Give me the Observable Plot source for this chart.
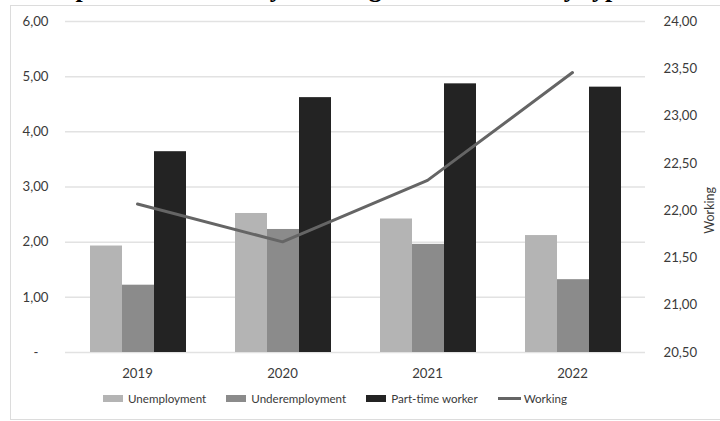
<!DOCTYPE html>
<html>
<head>
<meta charset="utf-8">
<script src="https://cdn.jsdelivr.net/npm/d3@7"></script>
<script src="https://cdn.jsdelivr.net/npm/@observablehq/plot@0.6"></script>
<style>
  body { margin: 0; background: #fff; }
  #chart { position: relative; width: 720px; height: 421px; overflow: hidden; font-family: Lato, sans-serif; color: #3a3a3a; }
  #frame { position: absolute; left: 10px; top: 5px; width: 730px; height: 415px; border: 1px solid #dcdcdc; box-sizing: border-box; }
  #title { position: absolute; left: 22px; top: -24.5px; font: bold 26px/26px "Liberation Serif", serif; white-space: nowrap; color: #000; }
  .layer { position: absolute; left: 0; top: 0; }
  #legend { position: absolute; left: 103px; top: 392px; display: flex; align-items: center; font-size: 11.6px; color: #3a3a3a; }
  #legend .item { display: flex; align-items: center; margin-right: 20px; }
  #legend .sw { width: 20px; height: 7px; margin-right: 5px; }
  #legend .ln { width: 23px; height: 3px; margin-right: 3px; }
</style>
</head>
<body>
<div id="chart">
  <div id="frame"></div>
  <div id="title">Comparison of rates by working status and sex by type</div>
  <div id="bars" class="layer"></div>
  <div id="overlay" class="layer"></div>
  <div id="legend"></div>
</div>
<script>
// Years and bar series (left axis)
const years = ["2019", "2020", "2021", "2022"];
const series = ["Unemployment", "Underemployment", "Part-time worker"];
const unemployment = [1.93, 2.52, 2.42, 2.12];
const underemployment = [1.22, 2.23, 1.96, 1.32];
const partTime = [3.64, 4.62, 4.87, 4.81];
// Working line (right axis)
const working = [22.07, 21.67, 22.32, 23.46];

const leftTicks = [0, 1, 2, 3, 4, 5, 6];
const rightTicks = [20.5, 21, 21.5, 22, 22.5, 23, 23.5, 24];
const barColors = ["#b4b4b4", "#8b8b8b", "#232323"];
const lineColor = "#656565";

const comma = d => d.toFixed(2).replace(".", ",");
// zero is shown as an accounting dash, set in from the right edge
const leftFormat = d => (d === 0 ? "-\u00a0\u00a0\u00a0" : comma(d));

const values = [unemployment, underemployment, partTime];
const rows = years.flatMap((year, i) =>
  series.map((s, j) => ({year, series: s, value: values[j][i]}))
);
const lineRows = years.map((year, i) => ({year, value: working[i]}));

const W = 720, H = 385;
const margins = {marginTop: 21, marginBottom: 33, marginLeft: 63, marginRight: 74};
const font = {fontFamily: "Lato, sans-serif", fontSize: "13.2px", color: "#3a3a3a", background: "transparent"};

// Bottom layer: grid, clustered bars, left axis
const bars = Plot.plot({
  width: W, height: H, ...margins,
  style: font,
  facet: {data: rows, x: "year", marginTop: 0, marginBottom: 0, marginLeft: 0, marginRight: 0},
  fx: {domain: years, padding: 0, axis: null, label: null},
  x: {domain: series, paddingInner: 0, paddingOuter: 0.74, axis: null},
  y: {domain: [0, 6], ticks: leftTicks, tickSize: 0, tickPadding: 17, tickFormat: leftFormat, label: null},
  color: {domain: series, range: barColors},
  marks: [
    Plot.ruleY(leftTicks, {stroke: "#e2e2e2", strokeWidth: 1.5}),
    Plot.barY(rows, {x: "series", y: "value", fill: "series"})
  ]
});
document.getElementById("bars").appendChild(bars);

// Top layer: working line, right axis, year labels
const overlay = Plot.plot({
  width: W, height: H, ...margins,
  style: font,
  x: {type: "point", domain: years, padding: 0.5, tickSize: 0, tickPadding: 16, label: null},
  y: {domain: [20.5, 24], axis: "right", ticks: rightTicks, tickSize: 0, tickPadding: 17, tickFormat: comma, label: null},
  marks: [
    Plot.line(lineRows, {x: "year", y: "value", stroke: lineColor, strokeWidth: 3}),
    Plot.text(["Working"], {frameAnchor: "right", text: d => d, rotate: -90, dx: 63, fill: "#3a3a3a", fontSize: 12.5})
  ]
});
document.getElementById("overlay").appendChild(overlay);

// Legend
const legend = document.getElementById("legend");
series.forEach((s, i) => {
  const item = document.createElement("div");
  item.className = "item";
  item.innerHTML = `<span class="sw" style="background:${barColors[i]}"></span><span>${s}</span>`;
  legend.appendChild(item);
});
const li = document.createElement("div");
li.className = "item";
li.innerHTML = `<span class="ln" style="background:${lineColor}"></span><span>Working</span>`;
legend.appendChild(li);
</script>
</body>
</html>
